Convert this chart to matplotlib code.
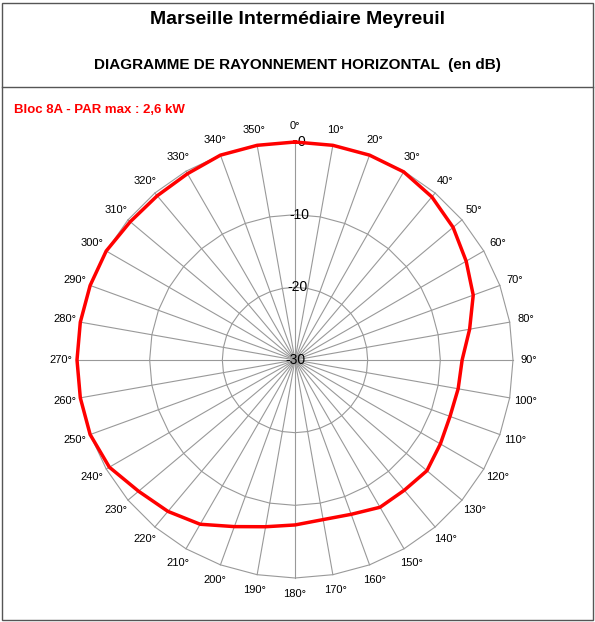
import numpy as np
import matplotlib
matplotlib.use("Agg")
import matplotlib.pyplot as plt
from matplotlib.patches import Rectangle
from matplotlib.lines import Line2D

angles_deg = list(range(0, 360, 10))
att_db = [0, 0, 0, -0.1, -0.7, -1.6, -2.8, -3.9, -5.6, -7.0, -7.2, -7.3,
          -6.9, -6.3, -6.6, -6.6, -7.4, -7.7, -7.3, -6.7, -5.6, -3.9, -2.8, -1.9,
          -0.5, 0, 0, 0, 0, 0, 0, -0.4, -0.5, -0.4, 0, 0]
r_levels = [-30, -20, -10, 0]

W, H = 595, 622
fig = plt.figure(figsize=(W/100, H/100), dpi=100)
fig.patches.append(Rectangle((2/W, 2/H), 1-4/W, 1-5/H, transform=fig.transFigure,
                             fill=False, ec='#555555', lw=1))
fig.lines.append(Line2D([2/W, 1-2/W], [1-87/H]*2, transform=fig.transFigure, color='#555555', lw=1))
fig.text(0.5, 1-20/H, "Marseille Intermédiaire Meyreuil", ha='center', va='center',
         fontsize=14, fontweight='bold', family='Liberation Sans')
fig.text(0.5, 1-65/H, "DIAGRAMME DE RAYONNEMENT HORIZONTAL  (en dB)", ha='center', va='center',
         fontsize=11, fontweight='bold', family='Liberation Sans')
fig.text(14/W, 1-110/H, "Bloc 8A - PAR max : 2,6 kW", ha='left', va='center', color='#ff0000',
         fontsize=9.5, fontweight='bold', family='Liberation Sans')

cx, cy, R = 295, 360, 218
ax = fig.add_axes([(cx-R)/W, (H-cy-R)/H, 2*R/W, 2*R/H], projection='polar')
ax.set_theta_zero_location('N')
ax.set_theta_direction(-1)
ax.set_ylim(-30, 0)
ax.axis('off')

th = np.deg2rad(angles_deg + [360])
for lv in r_levels[1:]:
    ax.plot(th, [lv]*len(th), color='#999999', lw=0.8, clip_on=False)
for a in angles_deg:
    ax.plot([np.deg2rad(a)]*2, [-30, 0], color='#999999', lw=0.8, clip_on=False)
    ax.text(np.deg2rad(a), 2.2, f"{a}°", ha='center', va='center', fontsize=8,
            family='Liberation Sans', clip_on=False)
for lv in r_levels:
    ax.text(0.03 if lv != -30 else 0, lv, f"{lv}", ha='center', va='center', fontsize=10,
            family='Liberation Sans', clip_on=False)

vals = att_db + [att_db[0]]
ax.plot(th, vals, color='#ff0000', lw=2.5, clip_on=False, zorder=5)

fig.savefig("out.png", dpi=100)
